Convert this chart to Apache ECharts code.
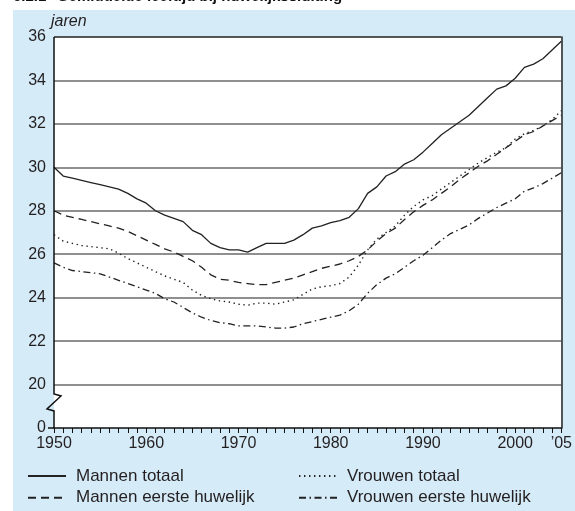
<!DOCTYPE html>
<html>
<head>
<meta charset="utf-8">
<title>Gemiddelde leeftijd bij huwelijkssluiting</title>
<script src="https://cdn.jsdelivr.net/npm/echarts@6/dist/echarts.min.js"></script>
<style>
html, body { margin: 0; padding: 0; background: #fff; }
#main { width: 575px; height: 511px; }
</style>
</head>
<body>
<div id="main"></div>
<script>
// jaren 1950 - 2005
var years = [];
for (var y = 1950; y <= 2005; y++) {
	years.push(String(y));
}
// gemiddelde leeftijd (jaren)
var mannenTotaal = [30.0, 29.6, 29.5, 29.4, 29.3, 29.2, 29.1, 29.0, 28.8, 28.55,
	28.35, 28.0, 27.8, 27.65, 27.5, 27.1, 26.9, 26.5, 26.3, 26.2,
	26.2, 26.1, 26.3, 26.5, 26.5, 26.5, 26.65, 26.9, 27.2, 27.3,
	27.45, 27.55, 27.7, 28.1, 28.8, 29.1, 29.6, 29.8, 30.15, 30.35,
	30.7, 31.1, 31.5, 31.8, 32.1, 32.4, 32.8, 33.2, 33.6, 33.75,
	34.1, 34.6, 34.75, 35.0, 35.4, 35.8];
var mannenEerste = [28.0, 27.8, 27.7, 27.6, 27.5, 27.4, 27.3, 27.2, 27.05, 26.85,
	26.65, 26.45, 26.25, 26.1, 25.9, 25.7, 25.4, 25.05, 24.85, 24.8,
	24.7, 24.65, 24.6, 24.6, 24.7, 24.8, 24.9, 25.05, 25.2, 25.35,
	25.45, 25.55, 25.7, 25.9, 26.2, 26.6, 26.95, 27.2, 27.6, 27.95,
	28.25, 28.5, 28.8, 29.1, 29.45, 29.75, 30.05, 30.3, 30.6, 30.9,
	31.2, 31.5, 31.65, 31.9, 32.15, 32.4];
var vrouwenTotaal = [26.9, 26.6, 26.5, 26.4, 26.35, 26.3, 26.25, 26.05, 25.8, 25.6,
	25.4, 25.2, 25.0, 24.85, 24.7, 24.35, 24.1, 23.95, 23.85, 23.8,
	23.7, 23.65, 23.75, 23.75, 23.7, 23.8, 23.9, 24.15, 24.4, 24.5,
	24.55, 24.65, 24.95, 25.5, 26.2, 26.7, 27.0, 27.3, 27.8, 28.2,
	28.5, 28.7, 29.0, 29.3, 29.6, 29.9, 30.2, 30.45, 30.7, 30.9,
	31.3, 31.55, 31.7, 31.9, 32.2, 32.6];
var vrouwenEerste = [25.6, 25.4, 25.25, 25.2, 25.15, 25.1, 24.95, 24.8, 24.65, 24.5,
	24.35, 24.2, 23.95, 23.8, 23.55, 23.3, 23.1, 22.95, 22.85, 22.8,
	22.7, 22.7, 22.7, 22.65, 22.6, 22.6, 22.65, 22.8, 22.9, 23.0,
	23.1, 23.2, 23.4, 23.7, 24.2, 24.6, 24.9, 25.1, 25.4, 25.7,
	25.95, 26.3, 26.65, 26.95, 27.15, 27.35, 27.65, 27.9, 28.15, 28.35,
	28.55, 28.9, 29.05, 29.25, 29.5, 29.75];
var names = ['Mannen totaal', 'Mannen eerste huwelijk', 'Vrouwen totaal', 'Vrouwen eerste huwelijk'];

var font = 'Liberation Sans, Arial, Helvetica, sans-serif';
var ink = '#231f20';
var lijn = '#222';
var blauw = '#d5ebf8';

// de as loopt eigenlijk van 18 tot 36, 18 wordt als 0 getoond (onderbroken as)
var yMin = 18, yMax = 36;

// legenda in twee kolommen
function legenda(left, data) {
	return {
		left: left, top: 467.5, orient: 'vertical',
		padding: 0, height: 80,
		itemWidth: 38, itemHeight: 14, itemGap: 4.7,
		data: data,
		itemStyle: { color: 'rgba(0,0,0,0)', borderWidth: 0 },
		textStyle: { fontFamily: font, fontSize: 17, lineHeight: 17, color: ink, padding: [0, 0, 0, 5] }
	};
}

var myChart = echarts.init(document.getElementById('main'));
var option = {
	animation: false,
	backgroundColor: '#fff',
	textStyle: { fontFamily: font, color: ink },
	grid: {
		left: 54, right: 9, top: 37, bottom: 83,
		show: true, backgroundColor: '#fff', borderWidth: 0
	},
	legend: [legenda(27, [names[0], names[1]]), legenda(298, [names[2], names[3]])],
	xAxis: {
		type: 'category',
		data: years,
		boundaryGap: false,
		axisLine: { lineStyle: { color: '#111', width: 1.5 } },
		axisTick: { show: true, interval: 0, length: 5, lineStyle: { color: '#111', width: 1 } },
		axisLabel: {
			interval: function(i, v) {
				return v % 10 == 0 || v == '2005';
			},
			formatter: function(v) {
				return v == '2005' ? '\u201905' : v;
			},
			fontFamily: font, fontSize: 16, color: ink, margin: 8
		},
		splitLine: { show: false }
	},
	yAxis: [{
		type: 'value',
		min: yMin, max: yMax, interval: 2,
		name: 'jaren',
		nameLocation: 'end',
		nameGap: 6,
		nameTextStyle: { fontFamily: font, fontSize: 16, fontStyle: 'italic', color: ink, align: 'left', padding: [0, 0, 0, -3] },
		axisLine: { show: false },
		axisTick: { show: false },
		axisLabel: {
			fontFamily: font, fontSize: 16, color: ink, margin: 8,
			formatter: function(v) {
				return v == yMin ? '0' : v;
			}
		},
		splitLine: {
			show: true,
			lineStyle: {
				// onderste = x-as, bovenste = kader
				color: ['rgba(0,0,0,0)', '#6a6a6a', '#6a6a6a', '#6a6a6a', '#6a6a6a', '#6a6a6a', '#6a6a6a', '#6a6a6a', '#6a6a6a', '#222'],
				width: 1.5
			}
		}
	}, {
		type: 'value',
		position: 'right',
		min: yMin, max: yMax, interval: 2,
		axisLine: { show: true, lineStyle: { color: '#222', width: 1.5 } },
		axisTick: { show: false },
		axisLabel: { show: false },
		splitLine: { show: false }
	}],
	series: [{
		name: names[0], type: 'line', data: mannenTotaal, symbol: 'none',
		lineStyle: { color: lijn, width: 1.3, type: 'solid' },
		itemStyle: { color: lijn }
	}, {
		name: names[1], type: 'line', data: mannenEerste, symbol: 'none',
		lineStyle: { color: lijn, width: 1.3, type: [8, 5] },
		itemStyle: { color: lijn }
	}, {
		name: names[2], type: 'line', data: vrouwenTotaal, symbol: 'none',
		lineStyle: { color: lijn, width: 1.4, type: [1.4, 3.6] },
		itemStyle: { color: lijn }
	}, {
		name: names[3], type: 'line', data: vrouwenEerste, symbol: 'none',
		lineStyle: { color: lijn, width: 1.3, type: [7, 3.5, 1.5, 3.5] },
		itemStyle: { color: lijn }
	}]
};
myChart.setOption(option);

// blauw vlak, titel en de onderbroken y-as
var x0 = myChart.convertToPixel({ xAxisIndex: 0 }, '1950');
var yTop = myChart.convertToPixel({ yAxisIndex: 0 }, yMax);
var yBot = myChart.convertToPixel({ yAxisIndex: 0 }, yMin);
var yBr = myChart.convertToPixel({ yAxisIndex: 0 }, 19.2);
myChart.setOption({
	graphic: [{
		type: 'rect', id: 'paneel', z: -10, silent: true,
		shape: { x: 13, y: 10, width: 575 - 13, height: 511 - 10 },
		style: { fill: blauw }
	}, {
		type: 'text', id: 'nr', z: 10, x: 13, y: 4,
		style: { text: '6.2.1', font: 'bold 15px ' + font, fill: '#111', verticalAlign: 'bottom' }
	}, {
		type: 'text', id: 'titel', z: 10, x: 57, y: 4,
		style: { text: 'Gemiddelde leeftijd bij huwelijkssluiting', font: 'bold 15px ' + font, fill: '#111', verticalAlign: 'bottom' }
	}, {
		type: 'polyline', id: 'yas', z: 10, silent: true,
		shape: {
			points: [
				[x0, yTop], [x0, yBr - 8], [x0 + 7, yBr - 6],
				[x0 - 7, yBr + 7], [x0, yBr + 9], [x0, yBot], [x0 - 6, yBot]
			]
		},
		style: { stroke: '#111', lineWidth: 1.5, fill: null }
	}]
});
</script>
</body>
</html>
